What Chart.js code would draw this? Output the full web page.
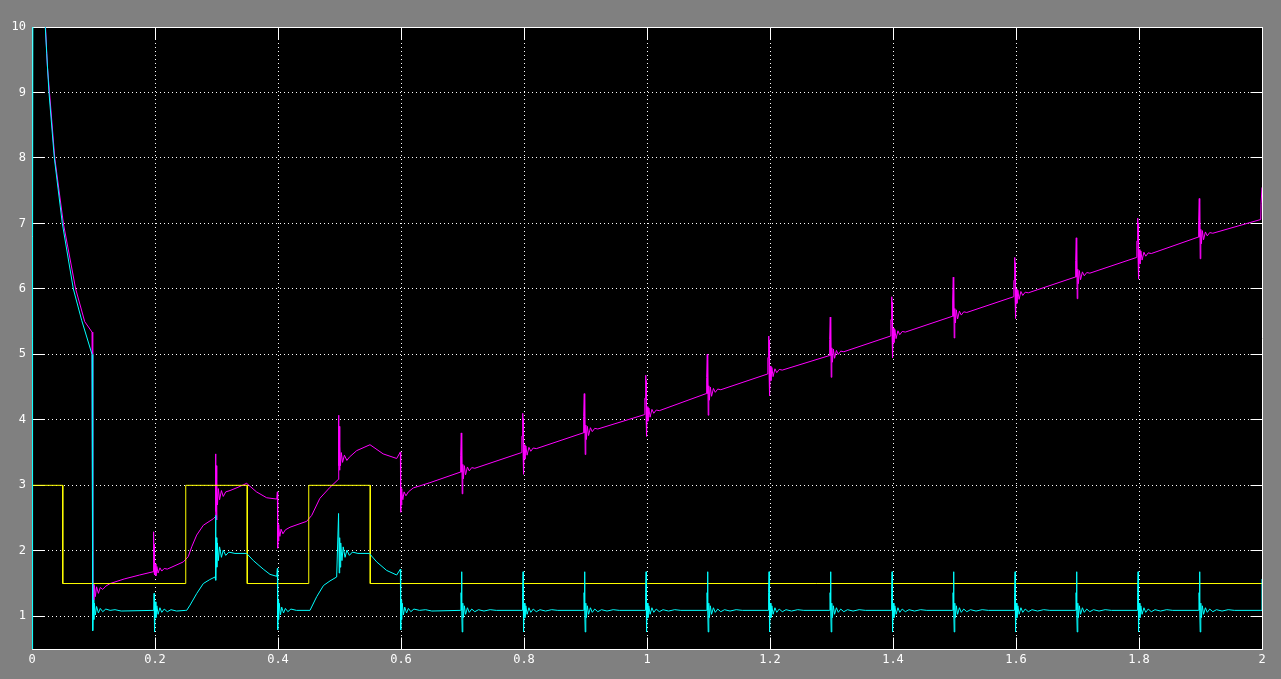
<!DOCTYPE html>
<html><head><meta charset="utf-8">
<script src="https://cdn.jsdelivr.net/npm/chart.js@4.4.1/dist/chart.umd.min.js"></script>
<style>html,body{margin:0;padding:0;background:#808080;overflow:hidden}canvas{display:block}</style>
</head><body>
<canvas id="c" width="1281" height="679"></canvas>
<script>
const xTicks = [0,0.2,0.4,0.6,0.8,1,1.2,1.4,1.6,1.8,2];
const xTickLabels = ['0','0.2','0.4','0.6','0.8','1','1.2','1.4','1.6','1.8','2'];
const yTicks = [1,2,3,4,5,6,7,8,9,10];
const yTickLabels = ['1','2','3','4','5','6','7','8','9','10'];

const yellowData = [[0,3],[0.05,3],[0.05,1.5],[0.25,1.5],[0.25,3],[0.35,3],[0.35,1.5],[0.45,1.5],[0.45,3],[0.55,3],[0.55,1.5],[2,1.5]];

const cyanData = [
[0,0.4],[0.0003,3.3],[0.0016,6.8],[0.002,14],[0.0216,10],[0.0239,9.6],[0.0276,9.0],[0.0363,8.0],[0.0493,7.0],[0.0672,6.0],[0.0808,5.52],[0.0976,5.0],
[0.0985,5.0],[0.099,0.78],[0.0995,1.25],[0.1005,0.95],[0.1015,1.2],[0.103,1.02],[0.105,1.15],[0.108,1.05],[0.111,1.12],[0.115,1.07],[0.12,1.11],[0.127,1.09],[0.135,1.1],[0.145,1.08],[0.198,1.09],
[0.1985,1.35],[0.199,1.09],[0.1995,0.76],[0.2005,1.22],[0.2015,0.98],[0.203,1.16],[0.205,1.03],[0.208,1.13],[0.211,1.06],[0.215,1.11],[0.22,1.07],[0.226,1.1],[0.235,1.08],[0.25,1.09],
[0.2515,1.09],[0.257,1.17],[0.268,1.35],[0.2786,1.5],[0.289,1.56],[0.2976,1.6],
[0.2985,2.54],[0.299,1.55],[0.2998,2.2],[0.3005,1.75],[0.3015,2.12],[0.303,1.85],[0.305,2.06],[0.308,1.9],[0.311,2.01],[0.315,1.93],[0.32,1.98],[0.33,1.96],[0.349,1.96],
[0.36,1.85],[0.376,1.72],[0.387,1.64],[0.398,1.61],
[0.399,1.73],[0.3995,0.79],[0.4003,1.25],[0.401,0.95],[0.402,1.2],[0.404,1.02],[0.406,1.14],[0.409,1.05],[0.412,1.12],[0.416,1.07],[0.421,1.11],[0.43,1.09],[0.452,1.09],
[0.463,1.3],[0.474,1.47],[0.4846,1.54],[0.4954,1.6],
[0.4985,2.57],[0.4995,1.66],[0.5003,2.2],[0.501,1.75],[0.502,2.12],[0.504,1.85],[0.506,2.06],[0.509,1.9],[0.512,2.01],[0.516,1.93],[0.521,1.98],[0.53,1.96],[0.5485,1.96],
[0.5605,1.83],[0.5767,1.7],[0.593,1.63],
[0.599,1.72],[0.5995,0.79],[0.6003,1.25],[0.601,0.95],[0.602,1.2],[0.604,1.02],[0.606,1.14],[0.609,1.05],[0.612,1.12],[0.616,1.07],[0.621,1.11],[0.63,1.09],[0.64,1.1],[0.65,1.08],
[0.697,1.09],[0.6975,1.36],[0.698,1.36],[0.6985,1.68],[0.699,1.09],[0.6995,0.76],[0.7005,1.2],[0.7015,0.98],[0.703,1.16],[0.705,1.03],[0.708,1.13],[0.711,1.06],[0.715,1.11],[0.72,1.07],[0.726,1.1],[0.735,1.08],[0.745,1.1],[0.755,1.09],
[0.797,1.09],[0.7975,1.36],[0.798,1.36],[0.7985,1.68],[0.799,1.09],[0.7995,0.76],[0.8005,1.2],[0.8015,0.98],[0.803,1.16],[0.805,1.03],[0.808,1.13],[0.811,1.06],[0.815,1.11],[0.82,1.07],[0.826,1.1],[0.835,1.08],[0.845,1.1],[0.855,1.09],
[0.897,1.09],[0.8975,1.36],[0.898,1.36],[0.8985,1.68],[0.899,1.09],[0.8995,0.76],[0.9005,1.2],[0.9015,0.98],[0.903,1.16],[0.905,1.03],[0.908,1.13],[0.911,1.06],[0.915,1.11],[0.92,1.07],[0.926,1.1],[0.935,1.08],[0.945,1.1],[0.955,1.09],
[0.997,1.09],[0.9975,1.36],[0.998,1.36],[0.9985,1.68],[0.999,1.09],[0.9995,0.76],[1.0005,1.2],[1.0015,0.98],[1.003,1.16],[1.005,1.03],[1.008,1.13],[1.011,1.06],[1.015,1.11],[1.02,1.07],[1.026,1.1],[1.035,1.08],[1.045,1.1],[1.055,1.09],
[1.097,1.09],[1.0975,1.36],[1.098,1.36],[1.0985,1.68],[1.099,1.09],[1.0995,0.76],[1.1005,1.2],[1.1015,0.98],[1.103,1.16],[1.105,1.03],[1.108,1.13],[1.111,1.06],[1.115,1.11],[1.12,1.07],[1.126,1.1],[1.135,1.08],[1.145,1.1],[1.155,1.09],
[1.197,1.09],[1.1975,1.36],[1.198,1.36],[1.1985,1.68],[1.199,1.09],[1.1995,0.76],[1.2005,1.2],[1.2015,0.98],[1.203,1.16],[1.205,1.03],[1.208,1.13],[1.211,1.06],[1.215,1.11],[1.22,1.07],[1.226,1.1],[1.235,1.08],[1.245,1.1],[1.255,1.09],
[1.297,1.09],[1.2975,1.36],[1.298,1.36],[1.2985,1.68],[1.299,1.09],[1.2995,0.76],[1.3005,1.2],[1.3015,0.98],[1.303,1.16],[1.305,1.03],[1.308,1.13],[1.311,1.06],[1.315,1.11],[1.32,1.07],[1.326,1.1],[1.335,1.08],[1.345,1.1],[1.355,1.09],
[1.397,1.09],[1.3975,1.36],[1.398,1.36],[1.3985,1.68],[1.399,1.09],[1.3995,0.76],[1.4005,1.2],[1.4015,0.98],[1.403,1.16],[1.405,1.03],[1.408,1.13],[1.411,1.06],[1.415,1.11],[1.42,1.07],[1.426,1.1],[1.435,1.08],[1.445,1.1],[1.455,1.09],
[1.497,1.09],[1.4975,1.36],[1.498,1.36],[1.4985,1.68],[1.499,1.09],[1.4995,0.76],[1.5005,1.2],[1.5015,0.98],[1.503,1.16],[1.505,1.03],[1.508,1.13],[1.511,1.06],[1.515,1.11],[1.52,1.07],[1.526,1.1],[1.535,1.08],[1.545,1.1],[1.555,1.09],
[1.597,1.09],[1.5975,1.36],[1.598,1.36],[1.5985,1.68],[1.599,1.09],[1.5995,0.76],[1.6005,1.2],[1.6015,0.98],[1.603,1.16],[1.605,1.03],[1.608,1.13],[1.611,1.06],[1.615,1.11],[1.62,1.07],[1.626,1.1],[1.635,1.08],[1.645,1.1],[1.655,1.09],
[1.697,1.09],[1.6975,1.36],[1.698,1.36],[1.6985,1.68],[1.699,1.09],[1.6995,0.76],[1.7005,1.2],[1.7015,0.98],[1.703,1.16],[1.705,1.03],[1.708,1.13],[1.711,1.06],[1.715,1.11],[1.72,1.07],[1.726,1.1],[1.735,1.08],[1.745,1.1],[1.755,1.09],
[1.797,1.09],[1.7975,1.36],[1.798,1.36],[1.7985,1.68],[1.799,1.09],[1.7995,0.76],[1.8005,1.2],[1.8015,0.98],[1.803,1.16],[1.805,1.03],[1.808,1.13],[1.811,1.06],[1.815,1.11],[1.82,1.07],[1.826,1.1],[1.835,1.08],[1.845,1.1],[1.855,1.09],
[1.897,1.09],[1.8975,1.36],[1.898,1.36],[1.8985,1.68],[1.899,1.09],[1.8995,0.76],[1.9005,1.2],[1.9015,0.98],[1.903,1.16],[1.905,1.03],[1.908,1.13],[1.911,1.06],[1.915,1.11],[1.92,1.07],[1.926,1.1],[1.935,1.08],[1.945,1.1],[1.955,1.09],
[1.998,1.09],[2.0,1.09],[2.0,1.57]
];

const magentaData = [
[0,14],[0.022,10],[0.025,9.4],[0.0285,9.0],[0.037,8.0],[0.051,7.0],[0.071,6.0],[0.0857,5.5],[0.0976,5.34],
[0.0985,5.34],[0.099,1.2],[0.0995,1.5],[0.1005,1.25],[0.1015,1.47],[0.103,1.3],[0.105,1.45],[0.108,1.35],[0.111,1.44],[0.115,1.41],[0.12,1.46],[0.127,1.5],[0.15,1.57],[0.175,1.63],[0.197,1.68],
[0.1975,1.68],[0.198,2.29],[0.1985,1.68],[0.199,2.1],[0.1995,1.63],[0.2005,1.8],[0.2015,1.62],[0.203,1.76],[0.205,1.66],[0.208,1.74],[0.211,1.69],[0.215,1.73],[0.22,1.72],[0.246,1.83],
[0.254,1.91],[0.2597,2.06],[0.2678,2.24],[0.2786,2.39],[0.2949,2.49],
[0.298,2.52],[0.2985,3.48],[0.299,2.6],[0.2995,3.3],[0.3,2.47],[0.3008,3.0],[0.3016,2.7],[0.303,2.95],[0.305,2.78],[0.308,2.92],[0.311,2.83],[0.315,2.9],[0.322,2.92],[0.335,2.97],[0.349,3.03],
[0.365,2.9],[0.3816,2.81],[0.398,2.79],
[0.399,2.9],[0.3995,2.04],[0.4,2.4],[0.4008,2.15],[0.4016,2.35],[0.403,2.22],[0.405,2.33],[0.408,2.26],[0.412,2.32],[0.4195,2.36],[0.4466,2.45],
[0.4548,2.54],[0.468,2.8],[0.4846,2.97],[0.498,3.09],
[0.4985,4.07],[0.499,3.3],[0.4995,3.9],[0.5,3.23],[0.5008,3.6],[0.5016,3.3],[0.503,3.5],[0.505,3.35],[0.508,3.46],[0.512,3.38],[0.516,3.43],[0.528,3.53],[0.5496,3.62],
[0.571,3.48],[0.593,3.41],
[0.599,3.51],[0.5995,2.59],[0.6,2.95],[0.6008,2.7],[0.6016,2.9],[0.603,2.78],[0.605,2.9],[0.608,2.84],[0.612,2.9],[0.62,2.96],[0.647,3.04],
[0.696,3.2],[0.6965,3.45],[0.6975,3.45],[0.698,3.8],[0.6985,3.2],[0.699,3.72],[0.6995,2.87],[0.7005,3.32],[0.7015,3.1],[0.703,3.3],[0.705,3.16],[0.708,3.28],[0.711,3.22],[0.715,3.27],[0.72,3.26],
[0.796,3.5],[0.7965,3.75],[0.7975,3.75],[0.798,4.1],[0.7985,3.5],[0.799,4.02],[0.7995,3.17],[0.8005,3.62],[0.8015,3.4],[0.803,3.6],[0.805,3.46],[0.808,3.58],[0.811,3.52],[0.815,3.57],[0.82,3.56],
[0.896,3.8],[0.8965,4.05],[0.8975,4.05],[0.898,4.4],[0.8985,3.8],[0.899,4.32],[0.8995,3.47],[0.9005,3.92],[0.9015,3.7],[0.903,3.9],[0.905,3.76],[0.908,3.88],[0.911,3.82],[0.915,3.87],[0.92,3.86],
[0.996,4.08],[0.9965,4.33],[0.9975,4.33],[0.998,4.68],[0.9985,4.08],[0.999,4.6],[0.9995,3.75],[1.0005,4.2],[1.0015,3.98],[1.003,4.18],[1.005,4.04],[1.008,4.16],[1.011,4.1],[1.015,4.15],[1.02,4.14],
[1.096,4.4],[1.0965,4.65],[1.0975,4.65],[1.098,5.0],[1.0985,4.4],[1.099,4.92],[1.0995,4.07],[1.1005,4.52],[1.1015,4.3],[1.103,4.5],[1.105,4.36],[1.108,4.48],[1.111,4.42],[1.115,4.47],[1.12,4.46],
[1.196,4.7],[1.1965,4.95],[1.1975,4.95],[1.198,5.28],[1.1985,4.7],[1.199,5.22],[1.1995,4.37],[1.2005,4.82],[1.2015,4.6],[1.203,4.8],[1.205,4.66],[1.208,4.78],[1.211,4.72],[1.215,4.77],[1.22,4.76],
[1.296,4.98],[1.2965,5.23],[1.2975,5.23],[1.298,5.57],[1.2985,4.98],[1.299,5.5],[1.2995,4.65],[1.3005,5.1],[1.3015,4.88],[1.303,5.08],[1.305,4.94],[1.308,5.06],[1.311,5.0],[1.315,5.05],[1.32,5.04],
[1.396,5.28],[1.3965,5.53],[1.3975,5.53],[1.398,5.88],[1.3985,5.28],[1.399,5.8],[1.3995,4.95],[1.4005,5.4],[1.4015,5.18],[1.403,5.38],[1.405,5.24],[1.408,5.36],[1.411,5.3],[1.415,5.35],[1.42,5.34],
[1.496,5.58],[1.4965,5.83],[1.4975,5.83],[1.498,6.18],[1.4985,5.58],[1.499,6.1],[1.4995,5.25],[1.5005,5.7],[1.5015,5.48],[1.503,5.68],[1.505,5.54],[1.508,5.66],[1.511,5.6],[1.515,5.65],[1.52,5.64],
[1.596,5.88],[1.5965,6.13],[1.5975,6.13],[1.598,6.48],[1.5985,5.88],[1.599,6.4],[1.5995,5.55],[1.6005,6.0],[1.6015,5.78],[1.603,5.98],[1.605,5.84],[1.608,5.96],[1.611,5.9],[1.615,5.95],[1.62,5.94],
[1.696,6.18],[1.6965,6.43],[1.6975,6.43],[1.698,6.78],[1.6985,6.18],[1.699,6.7],[1.6995,5.85],[1.7005,6.3],[1.7015,6.08],[1.703,6.28],[1.705,6.14],[1.708,6.26],[1.711,6.2],[1.715,6.25],[1.72,6.24],
[1.796,6.48],[1.7965,6.73],[1.7975,6.73],[1.798,7.08],[1.7985,6.48],[1.799,7.0],[1.7995,6.15],[1.8005,6.6],[1.8015,6.38],[1.803,6.58],[1.805,6.44],[1.808,6.56],[1.811,6.5],[1.815,6.55],[1.82,6.54],
[1.896,6.79],[1.8965,7.04],[1.8975,7.04],[1.898,7.38],[1.8985,6.79],[1.899,7.31],[1.8995,6.46],[1.9005,6.91],[1.9015,6.69],[1.903,6.89],[1.905,6.75],[1.908,6.87],[1.911,6.81],[1.915,6.86],[1.92,6.85],
[1.998,7.06],[1.9985,7.3],[2.0,7.55]
];

const align = v => Math.round(v - 0.5) + 0.5;

const framePlugin = {
  id: 'scopeFrame',
  beforeDraw(chart) {
    const {ctx, chartArea: a} = chart;
    ctx.save();
    ctx.fillStyle = '#000000';
    ctx.fillRect(a.left, a.top, a.right - a.left, a.bottom - a.top);
    ctx.restore();
  },
  beforeDatasetsDraw(chart) {
    const {ctx, chartArea: a, scales: {x, y}} = chart;
    const L = align(a.left), R = align(a.right), T = align(a.top), B = align(a.bottom);
    ctx.save();
    ctx.strokeStyle = '#ffffff';
    ctx.lineWidth = 1;
    ctx.beginPath();
    ctx.rect(L, T, R - L, B - T);
    for (const v of yTicks) {
      const p = align(y.getPixelForValue(v));
      ctx.moveTo(L, p); ctx.lineTo(L + 12, p);
      ctx.moveTo(R, p); ctx.lineTo(R - 12, p);
    }
    for (const v of xTicks) {
      const p = align(x.getPixelForValue(v));
      ctx.moveTo(p, B); ctx.lineTo(p, B - 12);
      ctx.moveTo(p, T); ctx.lineTo(p, T + 12);
    }
    ctx.stroke();
    ctx.restore();
  }
};

const lineDs = (data, color) => ({
  data, borderColor: color, backgroundColor: color, borderWidth: 1,
  pointRadius: 0, tension: 0, fill: false
});

new Chart(document.getElementById('c'), {
  type: 'line',
  data: { datasets: [lineDs(cyanData, '#00ffff'), lineDs(yellowData, '#ffff00'), lineDs(magentaData, '#ff00ff')] },
  options: {
    responsive: false, devicePixelRatio: 1, animation: false, events: [],
    layout: { padding: { top: 27, right: 19, left: 0, bottom: 0 } },
    plugins: { legend: { display: false }, tooltip: { enabled: false } },
    scales: {
      x: {
        type: 'linear', min: 0, max: 2,
        afterBuildTicks: s => { s.ticks = xTicks.map(v => ({ value: v })); },
        afterFit: s => { s.height = 30; },
        ticks: { autoSkip: false, maxRotation: 0, color: '#ffffff', padding: 4,
          font: { family: 'DejaVu Sans Mono', size: 12 },
          callback: (v, i) => xTickLabels[i] },
        grid: { color: '#ffffff', lineWidth: 1, drawTicks: false },
        border: { display: false, dash: [1, 3] }
      },
      y: {
        type: 'linear', min: 0.5, max: 10,
        afterBuildTicks: s => { s.ticks = yTicks.map(v => ({ value: v })); },
        afterFit: s => { s.width = 32; },
        ticks: { autoSkip: false, color: '#ffffff', padding: 6,
          font: { family: 'DejaVu Sans Mono', size: 12 },
          callback: (v, i) => yTickLabels[i] },
        grid: { color: '#ffffff', lineWidth: 1, drawTicks: false },
        border: { display: false, dash: [1, 3] }
      }
    }
  },
  plugins: [framePlugin]
});
</script>
</body></html>
